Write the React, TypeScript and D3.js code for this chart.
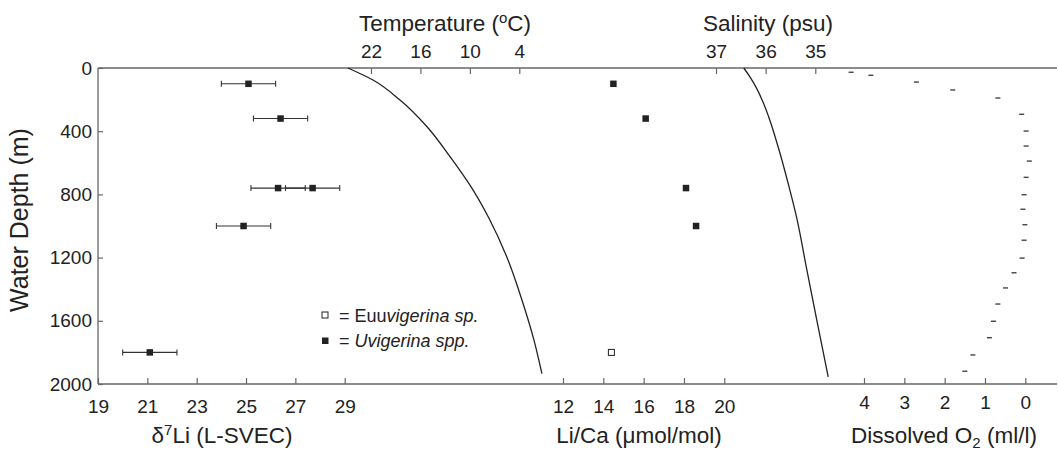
import { useEffect, useRef } from 'react';
import * as d3 from 'd3';

// δ7Li (Uvigerina spp.) with ±error
const liDepth = [100, 320, 760, 760, 1000, 1800];
const liDelta = [25.1, 26.4, 26.3, 27.7, 24.9, 21.1];
const liErr = [1.1, 1.1, 1.1, 1.1, 1.1, 1.1];

// Li/Ca
const licaDepth = [100, 320, 760, 1000];
const licaValue = [14.5, 16.1, 18.1, 18.6];
const licaOpenDepth = [1800];
const licaOpenValue = [14.4];

// temperature profile
const tempDepth = [0, 76, 203, 372, 561, 751, 951, 1215, 1468, 1722, 1935];
const tempValue = [24.8, 21.76, 18.48, 15.2, 12.41, 9.87, 7.68, 5.37, 3.68, 2.22, 1.25];

// salinity profile
const salDepth = [0, 50, 118, 210, 308, 519, 751, 941, 1278, 1595, 1955];
const salValue = [36.44, 36.33, 36.2, 36.06, 35.94, 35.73, 35.53, 35.38, 35.17, 34.97, 34.74];

// dissolved O2
const o2Depth = [27, 46, 89, 139, 190, 293, 399, 494, 589, 692, 802, 894, 992, 1090, 1203, 1296, 1392, 1494, 1603, 1707, 1816, 1919];
const o2Value = [4.32, 3.83, 2.7, 1.8, 0.68, 0.09, -0.02, -0.02, -0.1, -0.02, 0.03, 0.06, 0.01, 0.03, 0.08, 0.28, 0.49, 0.68, 0.79, 0.89, 1.3, 1.5];

const depthTicks = [0, 400, 800, 1200, 1600, 2000];
const liTicks = [19, 21, 23, 25, 27, 29];
const licaTicks = [12, 14, 16, 18, 20];
const tempTicks = [22, 16, 10, 4];
const salTicks = [37, 36, 35];
const o2Ticks = [4, 3, 2, 1, 0];

const W = 1058;
const H = 450;
const FONT = '"Liberation Sans", Arial, sans-serif';
const INK = '#222';
const AXIS = '#666';

export default function App() {
  const svgRef = useRef<SVGSVGElement>(null);

  useEffect(() => {
    if (!svgRef.current) return;
    const svg = d3.select(svgRef.current);
    svg.selectAll('*').remove();

    const left = 98, right = 1057, top = 68, bottom = 384;

    const y = d3.scaleLinear().domain([0, 2000]).range([top, bottom]);
    const xLi = d3.scaleLinear().domain([19, 29]).range([98, 344.7]);
    const xLica = d3.scaleLinear().domain([12, 20]).range([563, 724.3]);
    const xTemp = d3.scaleLinear().domain([22, 4]).range([371, 519.3]);
    const xSal = d3.scaleLinear().domain([37, 35]).range([716, 815.3]);
    const xO2 = d3.scaleLinear().domain([4, 0]).range([864, 1025.3]);

    const g = svg.append('g').attr('font-family', FONT).attr('fill', INK);

    // frame lines
    g.append('line').attr('x1', left).attr('x2', right).attr('y1', top).attr('y2', top)
      .attr('stroke', AXIS).attr('stroke-width', 1.3);
    g.append('line').attr('x1', left).attr('x2', right).attr('y1', bottom).attr('y2', bottom)
      .attr('stroke', AXIS).attr('stroke-width', 1.3);
    g.append('line').attr('x1', left).attr('x2', left).attr('y1', top).attr('y2', bottom)
      .attr('stroke', AXIS).attr('stroke-width', 1.3);

    const styleAxis = (sel: d3.Selection<SVGGElement, unknown, null, undefined>, size: number) => {
      sel.select('.domain').remove();
      sel.selectAll('.tick line').attr('stroke', AXIS).attr('stroke-width', 1.2);
      sel.selectAll('.tick text')
        .attr('fill', INK).attr('font-size', size).attr('font-family', FONT);
    };
    const fmt = d3.format('d');

    // left depth axis
    const ga = g.append('g').attr('transform', `translate(${left},0)`)
      .call(d3.axisLeft(y).tickValues(depthTicks).tickSize(-5).tickPadding(6).tickFormat(fmt));
    styleAxis(ga, 19);

    // bottom axes
    const gLi = g.append('g').attr('transform', `translate(0,${bottom})`)
      .call(d3.axisBottom(xLi).tickValues(liTicks).tickSize(-6).tickPadding(16).tickFormat(fmt));
    styleAxis(gLi, 19);
    const gLica = g.append('g').attr('transform', `translate(0,${bottom})`)
      .call(d3.axisBottom(xLica).tickValues(licaTicks).tickSize(-6).tickPadding(16).tickFormat(fmt));
    styleAxis(gLica, 19);
    const gO2 = g.append('g').attr('transform', `translate(0,${bottom})`)
      .call(d3.axisBottom(xO2).tickValues(o2Ticks).tickSize(-6).tickPadding(12).tickFormat(fmt));
    styleAxis(gO2, 19);

    // top axes
    const gT = g.append('g').attr('transform', `translate(0,${top})`)
      .call(d3.axisTop(xTemp).tickValues(tempTicks).tickSize(-6).tickPadding(10).tickFormat(fmt));
    styleAxis(gT, 19);
    const gS = g.append('g').attr('transform', `translate(0,${top})`)
      .call(d3.axisTop(xSal).tickValues(salTicks).tickSize(-6).tickPadding(10).tickFormat(fmt));
    styleAxis(gS, 19);

    // titles
    const title = (x: number, yy: number, size = 22.5, rotate = false) => {
      const t = g.append('text').attr('font-size', size).attr('text-anchor', 'middle').attr('fill', INK);
      if (rotate) t.attr('transform', `translate(${x},${yy}) rotate(-90)`);
      else t.attr('x', x).attr('y', yy);
      return t;
    };
    title(28, 220, 25, true).text('Water Depth (m)');

    const tt = title(445, 31);
    tt.append('tspan').text('Temperature (');
    tt.append('tspan').attr('font-size', 15).attr('dy', -8).text('o');
    tt.append('tspan').attr('dy', 8).text('C)');

    title(768, 31).text('Salinity (psu)');

    const tl = title(222, 443);
    tl.append('tspan').text('δ');
    tl.append('tspan').attr('font-size', 15).attr('dy', -8).text('7');
    tl.append('tspan').attr('dy', 8).text('Li (L-SVEC)');

    title(639, 443).text('Li/Ca (μmol/mol)');

    const to = title(944, 443);
    to.append('tspan').text('Dissolved O');
    to.append('tspan').attr('font-size', 15).attr('dy', 5).text('2');
    to.append('tspan').attr('dy', -5).text(' (ml/l)');

    // curves
    const tempLine = d3.line<number>()
      .x((_, i) => xTemp(tempValue[i]))
      .y((d) => y(d))
      .curve(d3.curveMonotoneY);
    g.append('path').datum(tempDepth).attr('d', tempLine)
      .attr('fill', 'none').attr('stroke', INK).attr('stroke-width', 1.3);

    const salLine = d3.line<number>()
      .x((_, i) => xSal(salValue[i]))
      .y((d) => y(d))
      .curve(d3.curveMonotoneY);
    g.append('path').datum(salDepth).attr('d', salLine)
      .attr('fill', 'none').attr('stroke', INK).attr('stroke-width', 1.3);

    // δ7Li error bars and points
    const cap = 3;
    liDepth.forEach((d, i) => {
      const x0 = xLi(liDelta[i] - liErr[i]);
      const x1 = xLi(liDelta[i] + liErr[i]);
      const yy = y(d);
      const eg = g.append('g').attr('stroke', '#333').attr('stroke-width', 1.1);
      eg.append('line').attr('x1', x0).attr('x2', x1).attr('y1', yy).attr('y2', yy);
      eg.append('line').attr('x1', x0).attr('x2', x0).attr('y1', yy - cap).attr('y2', yy + cap);
      eg.append('line').attr('x1', x1).attr('x2', x1).attr('y1', yy - cap).attr('y2', yy + cap);
    });
    const sq = 6.5;
    g.selectAll('rect.li').data(liDepth).enter().append('rect')
      .attr('x', (_, i) => xLi(liDelta[i]) - sq / 2)
      .attr('y', (d) => y(d) - sq / 2)
      .attr('width', sq).attr('height', sq).attr('fill', INK);

    // Li/Ca points
    g.selectAll('rect.lica').data(licaDepth).enter().append('rect')
      .attr('x', (_, i) => xLica(licaValue[i]) - sq / 2)
      .attr('y', (d) => y(d) - sq / 2)
      .attr('width', sq).attr('height', sq).attr('fill', INK);
    g.selectAll('rect.licaopen').data(licaOpenDepth).enter().append('rect')
      .attr('x', (_, i) => xLica(licaOpenValue[i]) - 3)
      .attr('y', (d) => y(d) - 3)
      .attr('width', 6).attr('height', 6).attr('fill', 'white')
      .attr('stroke', INK).attr('stroke-width', 1);

    // O2 dashes
    g.selectAll('line.o2').data(o2Depth).enter().append('line')
      .attr('x1', (_, i) => xO2(o2Value[i]) - 2.5)
      .attr('x2', (_, i) => xO2(o2Value[i]) + 2.5)
      .attr('y1', (d) => y(d)).attr('y2', (d) => y(d))
      .attr('stroke', '#444').attr('stroke-width', 1.4);

    // legend
    const lg = g.append('g');
    lg.append('rect').attr('x', 322).attr('y', 312).attr('width', 6).attr('height', 6)
      .attr('fill', 'white').attr('stroke', INK).attr('stroke-width', 1);
    lg.append('rect').attr('x', 322).attr('y', 337.5).attr('width', 6.5).attr('height', 6.5).attr('fill', INK);
    const l1 = lg.append('text').attr('x', 339).attr('y', 322).attr('font-size', 18);
    l1.append('tspan').text('= Euu');
    l1.append('tspan').attr('font-style', 'italic').text('vigerina sp.');
    const l2 = lg.append('text').attr('x', 339).attr('y', 347).attr('font-size', 18);
    l2.append('tspan').text('= ');
    l2.append('tspan').attr('font-style', 'italic').text('Uvigerina spp.');
  }, []);

  return (
    <div style={{ position: 'absolute', left: 0, top: 0, width: W, height: H, background: 'white' }}>
      <svg ref={svgRef} width={W} height={H} viewBox={`0 0 ${W} ${H}`} />
    </div>
  );
}
